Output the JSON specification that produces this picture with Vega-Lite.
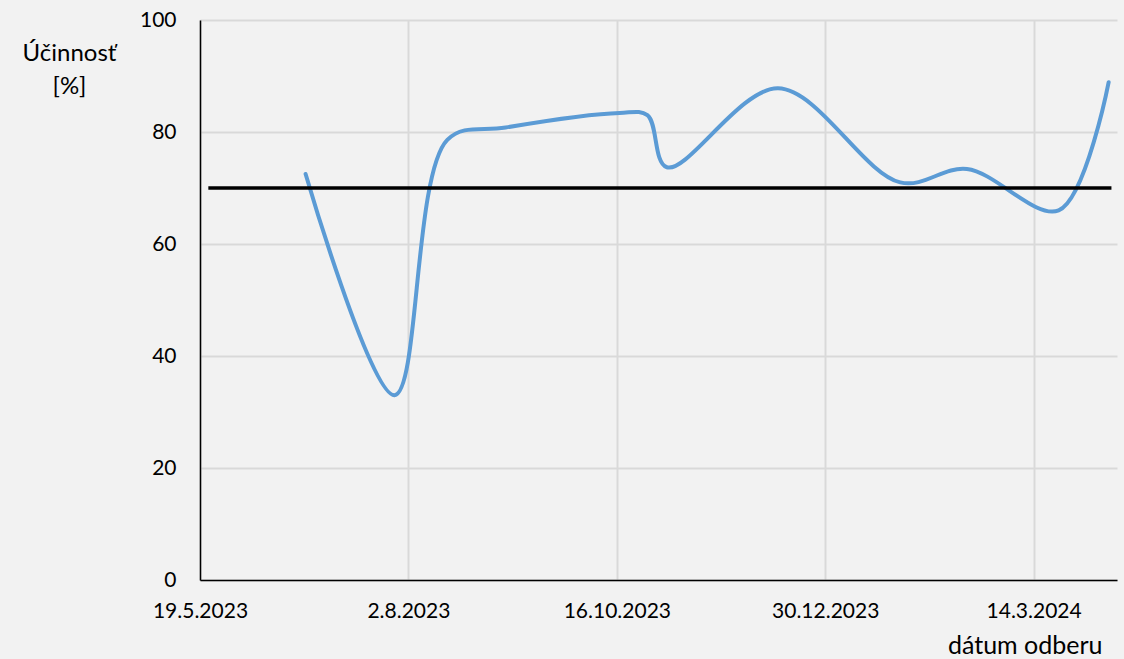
{
  "$schema": "https://vega.github.io/schema/vega-lite/v6.json",
  "width": 917,
  "height": 560,
  "autosize": "none",
  "padding": {"left": 200, "top": 20, "right": 7, "bottom": 79},
  "background": "#f2f2f2",
  "config": {
    "view": {"stroke": null},
    "font": "Lato",
    "axis": {
      "labelFont": "Lato",
      "titleFont": "Lato",
      "labelFontSize": 21,
      "titleFontSize": 24,
      "labelColor": "#000000",
      "titleColor": "#000000",
      "titleFontWeight": "normal",
      "gridColor": "#d9d9d9",
      "gridWidth": 2,
      "domainColor": "#000000",
      "domainWidth": 1.5,
      "ticks": false
    }
  },
  "datasets": {
    "ucinnost": [
      {"datum": "2023-06-26", "hodnota": 72.5},
      {"datum": "2023-07-28", "hodnota": 33.0},
      {"datum": "2023-08-16", "hodnota": 78.6},
      {"datum": "2023-09-06", "hodnota": 80.8},
      {"datum": "2023-10-17", "hodnota": 83.4},
      {"datum": "2023-10-27", "hodnota": 83.0},
      {"datum": "2023-11-03", "hodnota": 73.7},
      {"datum": "2023-12-13", "hodnota": 87.8},
      {"datum": "2024-01-26", "hodnota": 71.0},
      {"datum": "2024-02-19", "hodnota": 73.4},
      {"datum": "2024-03-23", "hodnota": 66.0},
      {"datum": "2024-04-10", "hodnota": 88.9}
    ],
    "limit": [
      {"datum": "2023-05-22", "hodnota": 70},
      {"datum": "2024-04-11", "hodnota": 70}
    ]
  },
  "layer": [
    {
      "data": {"name": "ucinnost"},
      "mark": {"type": "line", "color": "#5b9bd5", "strokeWidth": 4, "interpolate": "catmull-rom", "strokeCap": "round"},
      "encoding": {
        "x": {
          "field": "datum",
          "type": "temporal",
          "scale": {"type": "utc", "domain": [1684454400000, 1712966400000], "nice": false},
          "axis": {
            "values": [1684454400000, 1690934400000, 1697414400000, 1703894400000, 1710374400000],
            "format": "%-d.%-m.%Y",
            "labelPadding": 20,
            "labelBaseline": "top",
            "labelFlush": false,
            "labelOverlap": false,
            "title": "dátum odberu",
            "titleFontSize": 25,
            "titleAnchor": "end",
            "titleAlign": "right",
            "titleX": 902,
            "titleY": 73,
            "titleBaseline": "alphabetic"
          }
        },
        "y": {
          "field": "hodnota",
          "type": "quantitative",
          "scale": {"domain": [0, 100], "nice": false},
          "axis": {
            "values": [0, 20, 40, 60, 80, 100],
            "labelPadding": 24,
            "labelBaseline": "middle",
            "title": ["Účinnosť", "[%]"],
            "titleAngle": 0,
            "titleAlign": "center",
            "titleBaseline": "top",
            "titleX": -131,
            "titleY": 21,
            "titleLineHeight": 33
          }
        }
      }
    },
    {
      "data": {"name": "limit"},
      "mark": {"type": "line", "color": "#000000", "strokeWidth": 3.5},
      "encoding": {
        "x": {"field": "datum", "type": "temporal"},
        "y": {"field": "hodnota", "type": "quantitative"}
      }
    }
  ]
}
